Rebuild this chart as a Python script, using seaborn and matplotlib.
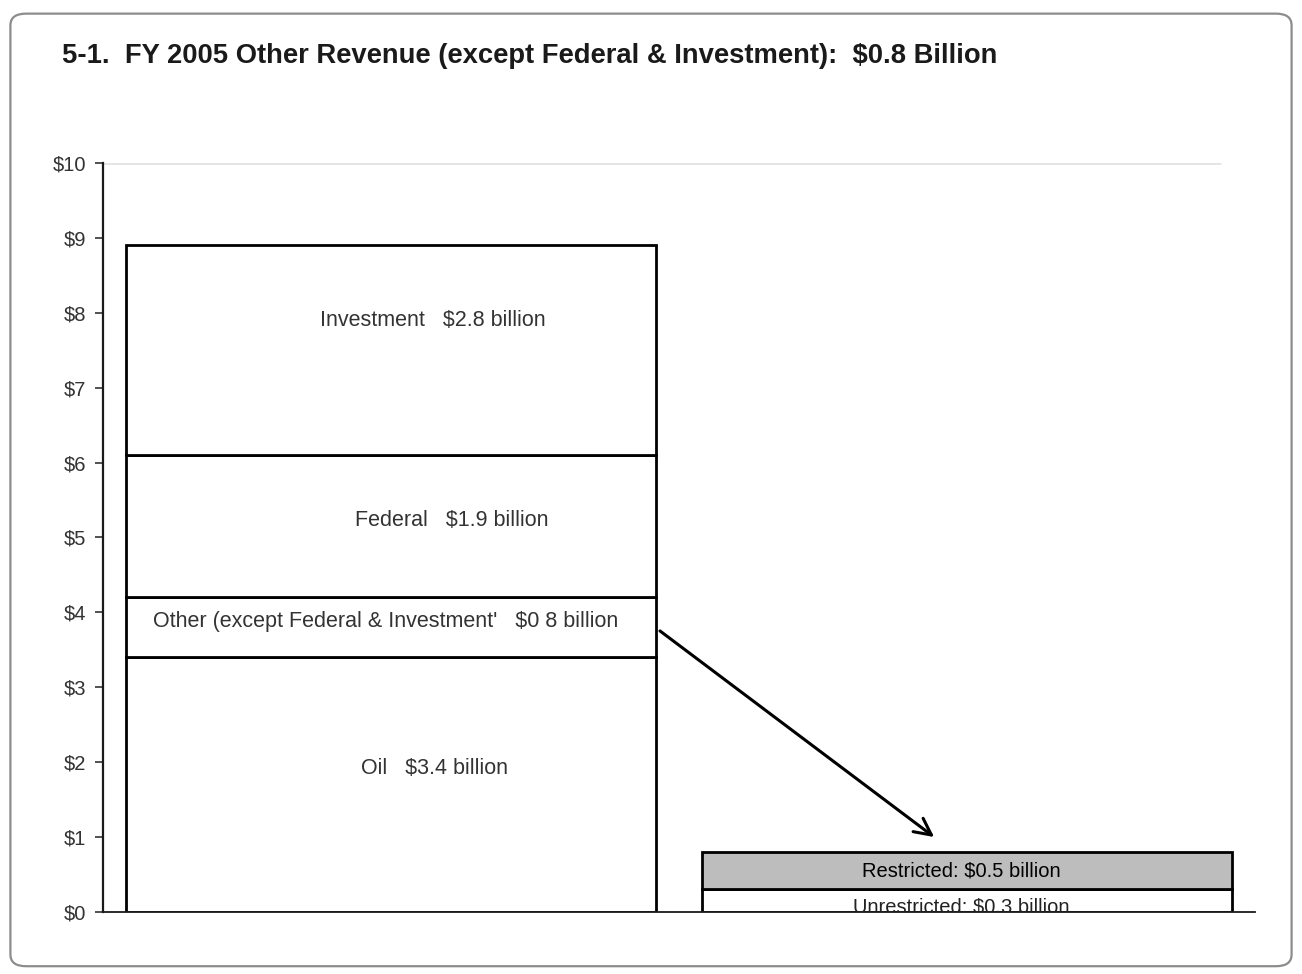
import numpy as np
import pandas as pd
import matplotlib
matplotlib.use("Agg")
import matplotlib.pyplot as plt
from matplotlib.patches import FancyBboxPatch
import seaborn as sns

# Revenue components, FY 2005 (billions of dollars), stacked bottom to top
total_segments = ["Oil", "Other (except Federal & Investment)", "Federal", "Investment"]
total_values = [3.4, 0.8, 1.9, 2.8]

# Breakdown of the "Other" component, bottom to top
other_segments = ["Unrestricted", "Restricted"]
other_values = [0.3, 0.5]

bar_order = ["All revenue", "Other revenue"]
y_ticks = list(range(0, 11))
title = "5-1.  FY 2005 Other Revenue (except Federal & Investment):  $0.8 Billion"

sns.set_theme(style="white")
plt.rcParams["font.family"] = ["Liberation Sans", "DejaVu Sans"]

fig = plt.figure(figsize=(13.02, 9.74), dpi=100)
fig.patch.set_facecolor("white")

# rounded outer frame, kept behind the axes
frame = FancyBboxPatch((0.008, 0.008), 0.984, 0.978,
                       boxstyle="round,pad=0,rounding_size=0.012",
                       transform=fig.transFigure, facecolor="none",
                       edgecolor="#8c8c8c", linewidth=1.6, zorder=-1)
fig.patches.append(frame)

fig.text(0.048, 0.943, title, fontsize=19.7, fontweight="bold",
         color="#1a1a1a", va="center", ha="left")

ax = fig.add_axes([0.0791, 0.0637, 0.8848, 0.769])
ax.set_zorder(2)
ax.set_facecolor("none")

edge_lw = 2.0

def stack(names, values, category, fills):
    bottoms = np.concatenate([[0.0], np.cumsum(values)[:-1]])
    for name, val, bot, fc in zip(names, values, bottoms, fills):
        df = pd.DataFrame({"bar": [category], "value": [val]})
        sns.barplot(data=df, x="bar", y="value", order=bar_order, ax=ax,
                    width=0.92, bottom=bot, color=fc, saturation=1,
                    edgecolor="black", linewidth=edge_lw, errorbar=None,
                    zorder=2)
    return bottoms

tot_bottoms = stack(total_segments, total_values, "All revenue",
                    ["white"] * len(total_values))
oth_bottoms = stack(other_segments, other_values, "Other revenue",
                    ["white", "#bdbdbd"])

# segment labels
label_style = dict(fontsize=15.5, color="#333333",
                   ha="center", va="center", zorder=4)
labels = [f"Oil   ${total_values[0]} billion",
          f"Other (except Federal & Investment'   ${str(total_values[1]).replace('.', ' ')} billion",
          f"Federal   ${total_values[2]} billion",
          f"Investment   ${total_values[3]} billion"]
x_shift = [0.075, -0.01, 0.106, 0.073]
y_shift = [0.22, 0.08, 0.08, 0.4]
for lab, bot, val, dx, dy in zip(labels, tot_bottoms, total_values, x_shift, y_shift):
    ax.text(0 + dx, bot + val / 2 + dy, lab, **label_style)

ax.text(1 - 0.01, oth_bottoms[1] + other_values[1] / 2,
        f"Restricted: ${other_values[1]} billion",
        fontsize=14.5, color="black", ha="center", va="center", zorder=4)
ax.text(1 - 0.01, 0.07, f"Unrestricted: ${other_values[0]} billion",
        fontsize=14.5, color="#222222", ha="center",
        va="center", zorder=4, clip_on=True)

# arrow from the "Other" segment down to its breakdown
other_mid = tot_bottoms[1] + total_values[1] * 0.44
ax.annotate("", xy=(0.943, sum(other_values) + 0.2), xytext=(0.467, other_mid),
            arrowprops=dict(arrowstyle="->", color="black", lw=2.2,
                            mutation_scale=30, shrinkA=0, shrinkB=0),
            zorder=5)

# faint top guide line
ax.axhline(10, xmin=0.0, xmax=0.97, color="#e4e4e4", lw=2, zorder=1)

ax.set_xlim(-0.5, 1.5)
ax.set_ylim(0, 10)
ax.set_yticks(y_ticks)
ax.set_yticklabels([f"${v}" for v in y_ticks], fontsize=14.5,
                   color="#333333")
ax.set_xticks([])
ax.set_xlabel("")
ax.set_ylabel("")
ax.tick_params(axis="y", which="major", left=True, length=6, width=1.2,
               color="#333333", pad=6)
for side in ["top", "right"]:
    ax.spines[side].set_visible(False)
ax.spines["left"].set_color("#1a1a1a")
ax.spines["left"].set_linewidth(1.6)
ax.spines["bottom"].set_color("#1a1a1a")
ax.spines["bottom"].set_linewidth(1.3)

fig.savefig("out.png", dpi=100, facecolor="white")
